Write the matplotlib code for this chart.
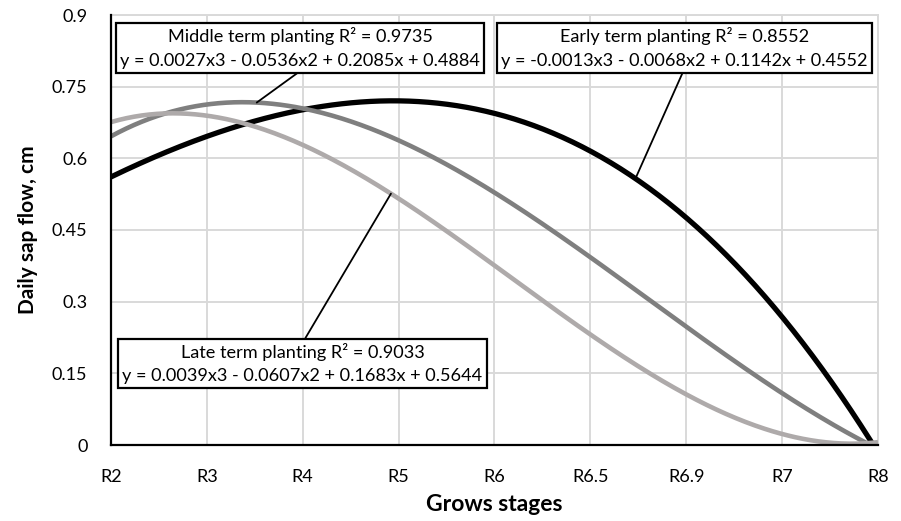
import numpy as np
import matplotlib
matplotlib.use('Agg')
import matplotlib.pyplot as plt

plt.rcParams['font.family'] = ['Lato', 'DejaVu Sans']

# 生育期 (x 轴类别)
stages = ['R2', 'R3', 'R4', 'R5', 'R6', 'R6.5', 'R6.9', 'R7', 'R8']
# 各播期日液流量 (按趋势线读出的各生育期数值)
early = [0.561, 0.646, 0.702, 0.720, 0.694, 0.615, 0.476, 0.268, -0.016]
middle = [0.646, 0.713, 0.704, 0.638, 0.528, 0.393, 0.248, 0.108, -0.008]
late = [0.676, 0.689, 0.628, 0.516, 0.376, 0.231, 0.106, 0.023, 0.006]

labels = [
    'Early term planting R² = 0.8552\ny = -0.0013x3 - 0.0068x2 + 0.1142x + 0.4552',
    'Middle term planting R² = 0.9735\ny = 0.0027x3 - 0.0536x2 + 0.2085x + 0.4884',
    'Late term planting R² = 0.9033\ny = 0.0039x3 - 0.0607x2 + 0.1683x + 0.5644',
]
colors = ['#000000', '#7f7f7f', '#aeaaaa']
widths = [3.8, 3.3, 3.3]

x = np.arange(1, len(stages) + 1)
xs = np.linspace(1, len(stages), 400)

fig = plt.figure(figsize=(9.01, 5.21), dpi=100)
ax = fig.add_axes([111 / 901, 1 - 445 / 521, 767 / 901, 430 / 521])

# 三次多项式趋势线
fits = []
for i, ys in enumerate([early, middle, late]):
    p = np.polyfit(x, ys, 3)
    fits.append(p)
    ax.plot(xs, np.polyval(p, xs), color=colors[i], lw=widths[i], zorder=3 + i,
            solid_capstyle='butt')

ax.set_xlim(1, len(stages))
ax.set_ylim(0, 0.9)
ax.set_xticks(x)
ax.set_xticklabels(stages)
ax.set_yticks([0, 0.15, 0.3, 0.45, 0.6, 0.75, 0.9])
ax.set_yticklabels(['0', '0.15', '0.3', '0.45', '0.6', '0.75', '0.9'])
ax.tick_params(axis='both', length=0, labelsize=13)
ax.tick_params(axis='y', pad=17)
ax.tick_params(axis='x', pad=17)

ax.grid(color='#d9d9d9', lw=1.4)
ax.set_axisbelow(True)
for s in ['top', 'right']:
    ax.spines[s].set_color('#d9d9d9')
    ax.spines[s].set_linewidth(1.4)
for s in ['left', 'bottom']:
    ax.spines[s].set_linewidth(1.6)
    ax.spines[s].set_zorder(6)

ax.set_xlabel('Grows stages', fontsize=16.5, fontweight='bold', labelpad=7)
ax.set_ylabel('Daily sap flow, cm', fontsize=15, fontweight='bold', labelpad=10)

# 标注框和引线
box = dict(boxstyle='square,pad=0.22', fc='white', ec='black', lw=1.6)
spots = [(6.47, (0.7477, 0.9233), (0.5, 0.0)),
         (2.52, (0.2464, 0.9233), (0.51, 0.0)),
         (3.92, (0.2497, 0.1895), (0.5, 1.0))]
for i, (xp, pos, rel) in enumerate(spots):
    ax.annotate(labels[i], xy=(xp, np.polyval(fits[i], xp)), xycoords='data',
                xytext=pos, textcoords='axes fraction',
                ha='center', va='center', fontsize=13.1, linespacing=1.55,
                bbox=box, zorder=10,
                arrowprops=dict(arrowstyle='-', color='black', lw=1.3,
                                relpos=rel, shrinkA=0, shrinkB=0))

plt.savefig('out.png', dpi=100)
